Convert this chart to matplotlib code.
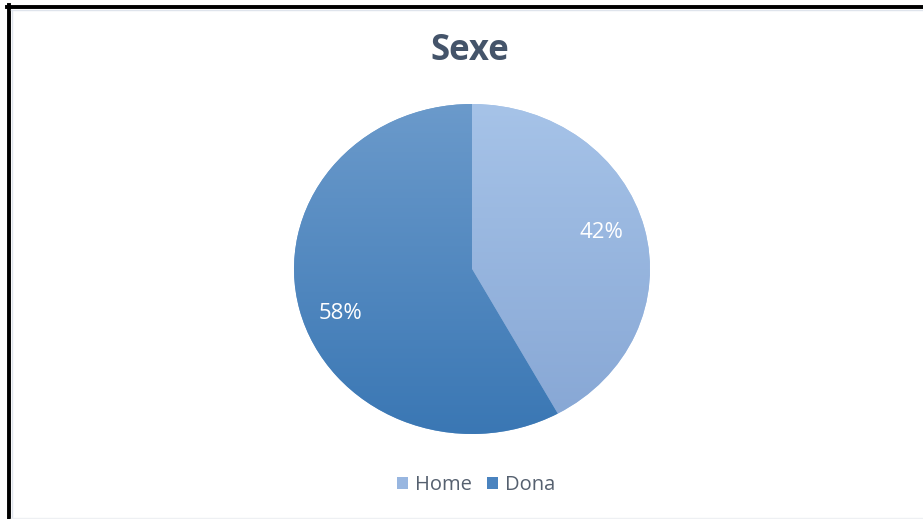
import numpy as np
import matplotlib
matplotlib.use("Agg")
import matplotlib.pyplot as plt
from matplotlib.colors import LinearSegmentedColormap
from matplotlib.patches import Rectangle
from matplotlib.lines import Line2D

plt.rcParams['font.family'] = ['Open Sans', 'DejaVu Sans']

title = "Sexe"
categories = ["Home", "Dona"]
shares = [42, 58]
# top / bottom shades of the gradient fill for each slice
top_colors = ["#a6c3e8", "#6b9acb"]
bottom_colors = ["#86a6d4", "#3a77b4"]
legend_colors = ["#98b6e0", "#4a83bf"]

W, H = 923, 519
fig = plt.figure(figsize=(W / 100, H / 100), dpi=100)
fig.patch.set_facecolor("white")

# pie area (slightly wider than tall)
cx, cy, rx, ry = 472, 269, 178, 165
ax = fig.add_axes([(cx - rx) / W, (H - cy - ry) / H, 2 * rx / W, 2 * ry / H])

wedges, _, autotexts = ax.pie(
    shares, startangle=90, counterclock=False, colors=top_colors,
    autopct="%1.0f%%", pctdistance=0.76, radius=1.0,
    textprops=dict(color="white", fontsize=16),
    wedgeprops=dict(linewidth=0),
)
ax.set_aspect("auto")
ax.set_xlim(-1, 1)
ax.set_ylim(-1, 1)

# vertical gradient inside each slice
for w, ct, cb in zip(wedges, top_colors, bottom_colors):
    cmap = LinearSegmentedColormap.from_list("g", [cb, ct])
    grad = np.linspace(0, 1, 256).reshape(-1, 1)
    im = ax.imshow(grad, extent=(-1, 1, -1, 1), origin="lower", cmap=cmap,
                   aspect="auto", zorder=w.get_zorder() + 0.1)
    im.set_clip_path(w)
for w in wedges:
    w.set_edgecolor("white")
for t in autotexts:
    t.set_zorder(5)
# nudge labels: the smaller slice's a bit higher, the larger slice's lower
x42, y42 = autotexts[0].get_position()
autotexts[0].set_position((x42 - 0.01, y42 + 0.03))
x58, y58 = autotexts[1].get_position()
autotexts[1].set_position((x58, y58 - 0.08))

fig.text(470 / W, 1 - 51 / H, title, ha="center", va="center",
         fontsize=25, fontweight="bold", color="#44546a")

handles = [Rectangle((0, 0), 1, 1, facecolor=c, edgecolor="none") for c in legend_colors]
fig.legend(handles, categories, loc="center", bbox_to_anchor=(476 / W, 1 - 485 / H),
           ncol=2, frameon=False, fontsize=14.5, handlelength=0.55, handleheight=0.55,
           handletextpad=0.35, columnspacing=0.75, labelcolor="#55606f")

# outer frame: heavy top and left rules with a faint inner line
fig.add_artist(Line2D([7 / W, 1], [1 - 6.5 / H, 1 - 6.5 / H], color="black", lw=2.8))
fig.add_artist(Line2D([8.5 / W, 8.5 / W], [0, 1 - 5 / H], color="black", lw=2.8))
fig.add_artist(Line2D([11 / W, 1], [1 - 9.5 / H, 1 - 9.5 / H], color="#dfe4ec", lw=1))
fig.add_artist(Line2D([11.5 / W, 11.5 / W], [0, 1 - 10 / H], color="#dfe4ec", lw=1))
fig.add_artist(Line2D([11 / W, 1], [1.5 / H, 1.5 / H], color="#eef0f3", lw=1))

fig.savefig("out.png", dpi=100, facecolor="white")
